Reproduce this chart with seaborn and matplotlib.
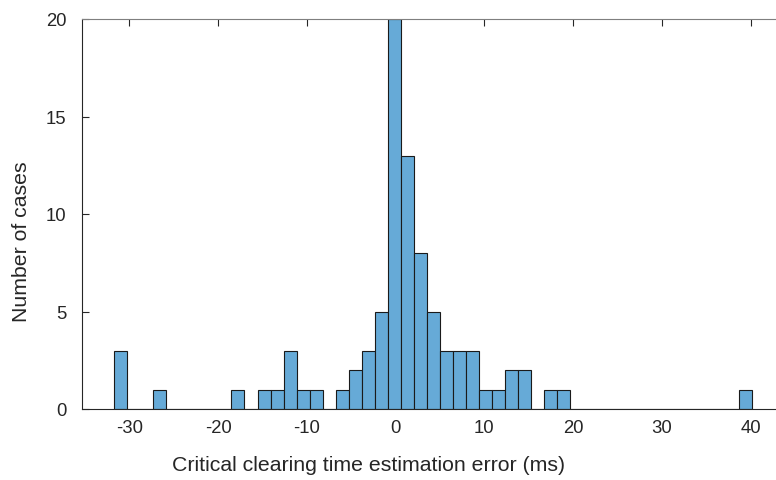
import numpy as np
import pandas as pd
import matplotlib
matplotlib.use("Agg")
import matplotlib.pyplot as plt
import seaborn as sns

# Histogram data (bin centres in ms and number of cases)
err_ms = [-30.97, -26.57, -17.77, -14.83, -13.37, -11.90, -10.43, -8.97,
          -6.03, -4.57, -3.10, -1.63, -0.16, 1.31, 2.77, 4.24,
          5.71, 7.17, 8.64, 10.11, 11.57, 13.04, 14.51, 17.44, 18.91, 39.45]
n_cases = [3, 1, 1, 1, 1, 3, 1, 1,
           1, 2, 3, 5, 20, 13, 8, 5,
           3, 3, 3, 1, 1, 2, 2, 1, 1, 1]

bin_lo, bin_hi, n_bins = -31.7, 40.2, 49
x_ticks = [-30, -20, -10, 0, 10, 20, 30, 40]
y_ticks = [0, 5, 10, 15, 20]

df = pd.DataFrame({"err": err_ms, "n": n_cases})

sns.set_style("white")
plt.rcParams["font.family"] = ["Liberation Sans", "DejaVu Sans"]
plt.rcParams["axes.unicode_minus"] = False

fig = plt.figure(figsize=(7.76, 4.81), dpi=100)
ax = fig.add_axes([82 / 776, 1 - 410 / 481, 694 / 776, 390 / 481])

bw = (bin_hi - bin_lo) / n_bins
sns.histplot(data=df, x="err", weights="n", binwidth=bw,
             binrange=(bin_lo, bin_hi), ax=ax,
             color="#66AAD7", alpha=1.0, edgecolor="#1a1a1a", linewidth=0.8)

ax.set_xlim(-35.33, 42.85)
ax.set_ylim(0, 20)
ax.set_xticks(x_ticks)
ax.set_yticks(y_ticks)

spine_c = "#262626"
for s in ["left", "bottom", "top"]:
    ax.spines[s].set_visible(True)
    ax.spines[s].set_color(spine_c)
    ax.spines[s].set_linewidth(0.8)
ax.spines["right"].set_visible(False)
ax.spines["top"].set_color("#7f7f7f")

ax.tick_params(axis="x", direction="in", length=5, width=0.8, color=spine_c,
               labelsize=13.3, labelcolor="#262626", pad=7, top=True)
ax.tick_params(axis="y", direction="in", length=5, width=0.8, color=spine_c,
               labelsize=13.3, labelcolor="#262626", pad=11, left=True)

ax.set_xlabel("Critical clearing time estimation error (ms)", fontsize=15.3,
              color="#262626")
ax.set_ylabel("Number of cases", fontsize=15.3, color="#262626")
ax.xaxis.set_label_coords((368.5 - 82) / 694, (410 - 466) / 390)
ax.xaxis.label.set_va("center")
ax.yaxis.set_label_coords((22 - 82) / 694, (410 - 242) / 390)
ax.yaxis.label.set_va("center")
ax.grid(False)

fig.savefig("out.png", dpi=100)
